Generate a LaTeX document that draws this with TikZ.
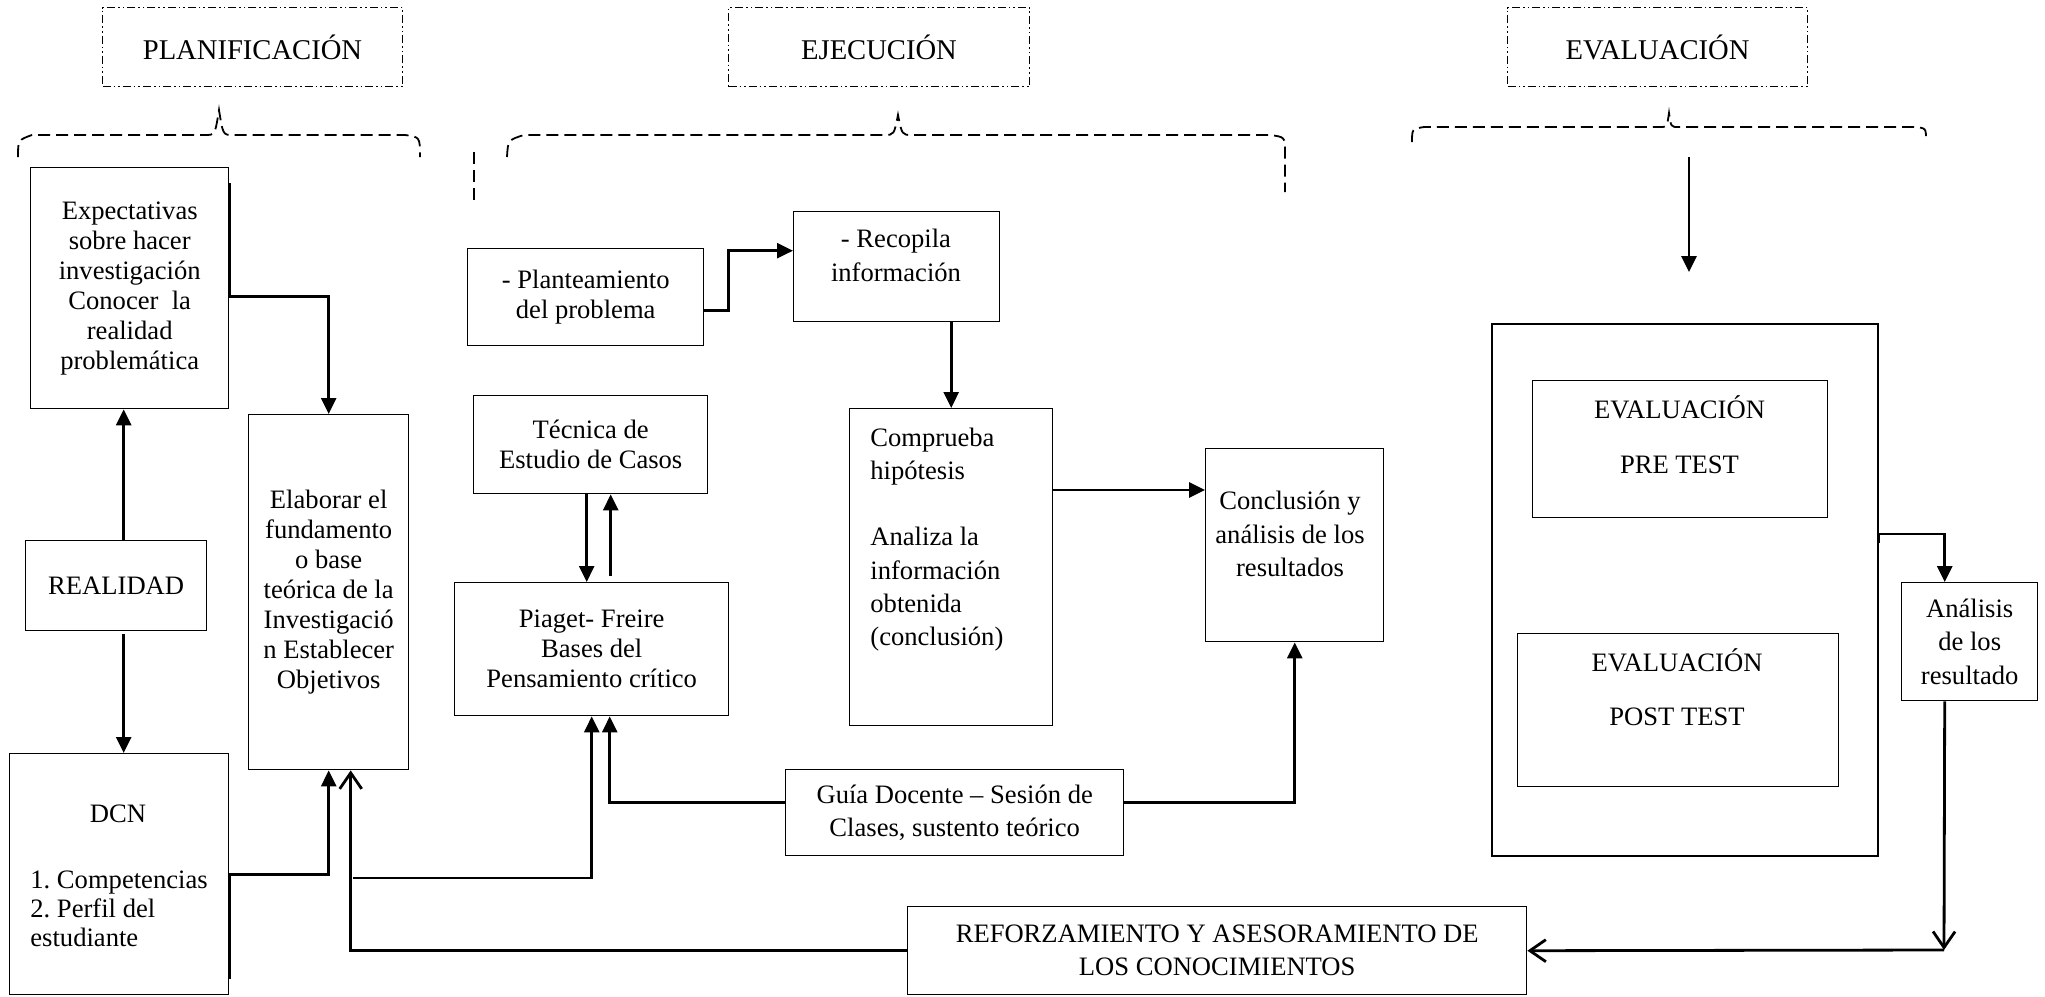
\documentclass[tikz,border=0pt]{standalone}
\usepackage{fontspec}
\setmainfont{Liberation Serif}
\usetikzlibrary{arrows.meta}
\frenchspacing

\begin{document}
\begin{tikzpicture}[x=0.5pt,y=-0.5pt,>={Triangle[length=8pt,width=7.5pt]},
					box/.style={draw,line width=0.7pt,anchor=north west,inner sep=2pt,align=center,font=\fontsize{13.3}{15}\selectfont},
					title box/.style={draw,line width=0.5pt,dash pattern=on 4pt off 1.5pt on 0.8pt off 1.5pt on 0.8pt off 1.5pt,anchor=north west,minimum width=150pt,minimum height=39.5pt,font=\fontsize{14.3}{16}\selectfont},
					txt/.style={inner sep=0pt,align=center,font=\fontsize{13.3}{16.6}\selectfont},
					link/.style={->,line width=1.4pt},
					back link/.style={-{Straight Barb[length=8pt,width=11pt]},line width=1.4pt},
					brace line/.style={dash pattern=on 6pt off 3pt,line width=0.9pt}]
				\useasboundingbox (0,0) rectangle (2045,996);

				\node[title box] (plan) at (102,7) {PLANIFICACIÓN};
				\node[title box,minimum width=150.5pt] (ejec) at (728,7) {EJECUCIÓN};
				\node[title box] (evalt) at (1507,7) {EVALUACIÓN};

				\draw[brace line] (18,157) .. controls (18,140) .. (32,135) -- (205,135) .. controls (215,135) .. (219,110) .. controls (223,135) .. (233,135) -- (405,135) .. controls (420,137) .. (420,157);
				\draw[brace line] (474,152) -- (474,200);
				\draw[brace line] (507,157) .. controls (508,140) .. (524,135) -- (884,135) .. controls (894,135) .. (898,115) .. controls (902,135) .. (912,135) -- (1270,135) .. controls (1285,137) .. (1285,152) -- (1285,192);
				\draw[brace line] (1412,142) .. controls (1412,129) .. (1424,127) -- (1660,127) .. controls (1667,127) .. (1669,113) .. controls (1671,127) .. (1678,127) -- (1914,127) .. controls (1926,128) .. (1926,140);

				\node[box,minimum width=99pt,minimum height=120.5pt] (expect) at (30,167) {Expectativas\\sobre hacer\\investigación\\Conocer~ la\\realidad\\problemática};
				\node[box,minimum width=90.5pt,minimum height=45pt] (realidad) at (25,540) {REALIDAD};
				\node[box,minimum width=109.5pt,minimum height=120.5pt] (dcn) at (9,753) {};
				\node[txt] (dcntitle) at (118,814) {DCN};
				\node[txt,anchor=west,align=left,font=\fontsize{13.3}{14.5}\selectfont] (dcnlist) at (30,909) {1. Competencias\\2. Perfil del\\estudiante};
				\node[box,minimum width=80pt,minimum height=177.5pt] (elab) at (248,414) {Elaborar el\\fundamento\\o base\\teórica de la\\Investigació\\n Establecer\\Objetivos};

				\node[box,minimum width=118pt,minimum height=48.5pt] (plante) at (467,248) {- Planteamiento\\del problema};
				\node[box,minimum width=103pt,minimum height=55pt] (recopila) at (793,211) {};
				\node[txt,font=\fontsize{13.3}{17}\selectfont] (recopilatxt) at (896,255) {- Recopila\\información};
				\node[box,minimum width=117pt,minimum height=49pt] (tecnica) at (473,395) {Técnica de\\Estudio de Casos};
				\node[box,minimum width=137pt,minimum height=66.5pt] (piaget) at (454,582) {Piaget- Freire\\Bases del\\Pensamiento crítico};
				\node[box,minimum width=101.5pt,minimum height=158.5pt] (comprueba) at (849,408) {};
				\node[txt,anchor=west,align=left] (compruebatxt) at (870,539.5) {Comprueba\\hipótesis\\[16.6pt]Analiza la\\información\\obtenida\\(conclusión)};
				\node[box,minimum width=89pt,minimum height=96.5pt] (conclusion) at (1205,448) {};
				\node[txt] (conclusiontxt) at (1290,534) {Conclusión y\\análisis de los\\resultados};
				\node[box,minimum width=169pt,minimum height=43pt,font=\fontsize{13.3}{16.6}\selectfont] (guia) at (785,769) {Guía Docente – Sesión de\\Clases, sustento teórico};
				\node[box,minimum width=309.5pt,minimum height=44pt,font=\fontsize{13.3}{16.6}\selectfont] (reforz) at (907,906) {REFORZAMIENTO Y ASESORAMIENTO DE\\LOS CONOCIMIENTOS};

				\node[box,line width=0.9pt,minimum width=193pt,minimum height=266pt] (big) at (1491,323) {};
				\node[box,minimum width=147.5pt,minimum height=68.5pt] (pre) at (1532,380) {};
				\node[txt,font=\fontsize{13.3}{15}\selectfont] (pretxt) at (1679.5,434.5) {EVALUACIÓN\\[12.5pt]PRE TEST};
				\node[box,minimum width=160.5pt,minimum height=76.5pt] (post) at (1517,633) {};
				\node[txt,font=\fontsize{13.3}{15}\selectfont] (posttxt) at (1677,687) {EVALUACIÓN\\[12pt]POST TEST};
				\node[box,minimum width=68pt,minimum height=59pt,font=\fontsize{13.3}{16.6}\selectfont] (analisis) at (1901,582) {Análisis\\de los\\resultado};

				\coordinate (r1) at ([xshift=3.75pt]realidad.north);
				\coordinate (r2) at ([xshift=3.75pt,yshift=-1.5pt]realidad.south);
				\coordinate (t1) at ([xshift=-2pt]tecnica.south);
				\coordinate (p1) at ([xshift=9.5pt,yshift=3pt]piaget.north);
				\coordinate (c1) at ([yshift=-21pt]conclusion.north west);
				\coordinate (branch) at (353,878);
				\coordinate (evtop) at (1689,157);
				\coordinate (evbot) at (1689,272);
				\coordinate (corner) at (1944,950);

				\draw[link] (r1) -- (r1 |- expect.south);
				\draw[link] (r2) -- (r2 |- dcn.north);
				\draw[link] ([yshift=-8pt]expect.north east) -- ([yshift=-4.25pt]expect.east) -| (elab.north);
				\draw[link] ([yshift=8pt]dcn.south east) -- (dcn.east) -| (elab.south);
				\draw[back link] (reforz.west) -| ([xshift=11pt]elab.south);
				\draw[link] (branch) -| (piaget.south);
				\draw[link] ([yshift=5pt]guia.west) -| ([xshift=9pt]piaget.south);
				\draw[link] ([yshift=5pt]guia.east) -| (conclusion.south);
				\draw[link] (t1) -- (t1 |- piaget.north);
				\draw[link] (p1) -- (p1 |- tecnica.south);
				\draw[link] ([yshift=-6.75pt]plante.east) -- ++(12pt,0) |- ([yshift=8pt]recopila.west);
				\draw[link] (recopila.south -| comprueba.north) -- (comprueba.north);
				\draw[link] (c1 -| comprueba.east) -- (c1);
				\draw[link] (evtop) -- (evbot);
				\draw[link] ([yshift=23.5pt]big.east) -- ([yshift=28pt]big.east) -| ([xshift=-12.5pt]analisis.north);
				\draw[back link] ([xshift=-12.5pt]analisis.south) -- (corner);
				\draw[back link] (corner) -- (reforz.east);
			\end{tikzpicture}
\end{document}
